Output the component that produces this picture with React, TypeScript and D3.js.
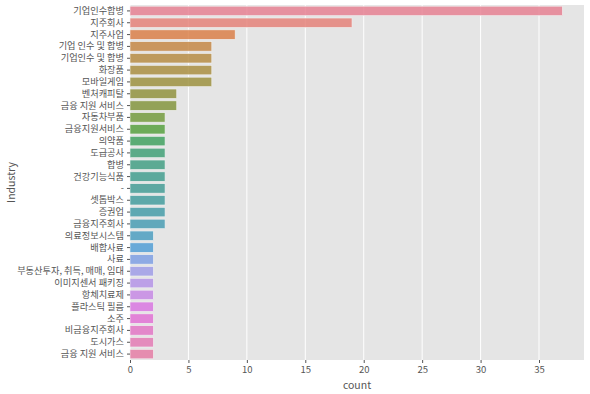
import React, { useEffect, useRef } from 'react';
import * as d3 from 'd3';

const industries = [
  '기업인수합병', '지주회사', '지주사업', '기업 인수 및 합병', '기업인수 및 합병',
  '화장품', '모바일게임', '벤처캐피탈', '금융 지원 서비스', '자동차부품',
  '금융지원서비스', '의약품', '도급공사', '합병', '건강기능식품',
  '-', '셋톱박스', '증권업', '금융지주회사', '의료정보시스템',
  '배합사료', '사료', '부동산투자, 취득, 매매, 임대', '이미지센서 패키징', '항체치료제',
  '플라스틱 필름', '소주', '비금융지주회사', '도시가스', '금융 지원 서비스 ',
];
const counts = [
  37, 19, 9, 7, 7,
  7, 7, 4, 4, 3,
  3, 3, 3, 3, 3,
  3, 3, 3, 3, 2,
  2, 2, 2, 2, 2,
  2, 2, 2, 2, 2,
];
const xTicks = [0, 5, 10, 15, 20, 25, 30, 35];

// seaborn husl palette (old husl 2.x maths)
const M = [
  [3.2406, -1.5372, -0.4986],
  [-0.9689, 1.8758, 0.0415],
  [0.0557, -0.204, 1.057],
];
const refU = 0.19784, refV = 0.46834, kappa = 903.3, epsilon = 0.008856;

function maxChroma(L: number, H: number) {
  const hrad = (H / 360) * 2 * Math.PI;
  const sinH = Math.sin(hrad), cosH = Math.cos(hrad);
  const sub1 = Math.pow(L + 16, 3) / 1560896;
  const sub2 = sub1 > epsilon ? sub1 : L / kappa;
  let result = Infinity;
  for (const [m1, m2, m3] of M) {
    const top = (0.99915 * m1 + 1.05122 * m2 + 1.1446 * m3) * sub2;
    const rbottom = 0.8633 * m3 - 0.17266 * m2;
    const lbottom = 0.12949 * m3 - 0.38848 * m1;
    const bottom = (rbottom * sinH + lbottom * cosH) * sub2;
    for (const t of [0, 1]) {
      const C = (L * (top - 1.05122 * t)) / (bottom + 0.17266 * sinH * t);
      if (C > 0 && C < result) result = C;
    }
  }
  return result;
}

function huslToRgb(h: number, s: number, l: number) {
  const C = (maxChroma(l, h) / 100) * s;
  const hrad = (h / 360) * 2 * Math.PI;
  const U = Math.cos(hrad) * C, V = Math.sin(hrad) * C;
  const t = (l + 16) / 116;
  const varY = t * t * t > epsilon ? t * t * t : (116 * t - 16) / kappa;
  const varU = U / (13 * l) + refU;
  const varV = V / (13 * l) + refV;
  const Y = varY;
  const X = -(9 * Y * varU) / ((varU - 4) * varV - varU * varV);
  const Z = (9 * Y - 15 * varV * Y - varV * X) / (3 * varV);
  const lin = M.map(r => r[0] * X + r[1] * Y + r[2] * Z);
  const rgb = lin.map(c => {
    const v = c <= 0.0031308 ? 12.92 * c : 1.055 * Math.pow(c, 1 / 2.4) - 0.055;
    return Math.max(0, Math.min(1, v)) * 255;
  });
  return d3.rgb(rgb[0], rgb[1], rgb[2]);
}

function palette(n: number) {
  return d3.range(n).map(i => {
    const h = ((i / n + 0.01) % 1) * 359;
    const c = d3.hsl(huslToRgb(h, 0.9 * 99, 0.65 * 99));
    c.s *= 0.75;
    return c.formatHex();
  });
}

export default function App() {
  const ref = useRef<SVGSVGElement>(null);

  useEffect(() => {
    const svg = d3.select(ref.current);
    svg.selectAll('*').remove();

    const margin = { top: 5, right: 6, bottom: 34, left: 130 };
    const width = 590 - margin.left - margin.right;
    const height = 394 - margin.top - margin.bottom;
    const font = '"Noto Sans CJK KR", "Noto Sans", sans-serif';
    const colors = palette(industries.length);

    const g = svg.append('g').attr('transform', `translate(${margin.left},${margin.top})`);

    const x = d3.scaleLinear().domain([0, d3.max(counts)! * 1.05]).range([0, width]);
    const y = d3.scaleBand().domain(industries).range([0, height]).paddingInner(0.2).paddingOuter(0.1);

    g.append('rect').attr('width', width).attr('height', height).attr('fill', '#e5e5e5');

    g.selectAll('line.grid')
      .data(xTicks)
      .join('line')
      .attr('x1', d => x(d)).attr('x2', d => x(d))
      .attr('y1', 0).attr('y2', height)
      .attr('stroke', '#fff').attr('stroke-width', 1);

    g.selectAll('rect.bar')
      .data(industries)
      .join('rect')
      .attr('x', x(0))
      .attr('y', d => y(d)!)
      .attr('width', (d, i) => x(counts[i]) - x(0))
      .attr('height', y.bandwidth())
      .attr('fill', (d, i) => colors[i])
      .attr('fill-opacity', 0.85)
      .attr('stroke', '#f2f2f2')
      .attr('stroke-width', 0.6);

    const xAxis = g.append('g')
      .attr('transform', `translate(0,${height})`)
      .call(d3.axisBottom(x).tickValues(xTicks).tickSize(3).tickPadding(3));
    const yAxis = g.append('g')
      .call(d3.axisLeft(y).tickSize(3).tickPadding(3));

    [xAxis, yAxis].forEach(a => {
      a.select('.domain').remove();
      a.selectAll('line').attr('stroke', '#555');
      a.selectAll('text').attr('fill', '#555').attr('font-family', font);
    });
    xAxis.selectAll('text').attr('font-size', 9.5);
    yAxis.selectAll('text').attr('font-size', 9.2);

    g.append('text')
      .attr('x', width / 2).attr('y', height + 29)
      .attr('text-anchor', 'middle')
      .attr('fill', '#555').attr('font-size', 10.5).attr('font-family', font)
      .text('count');

    g.append('text')
      .attr('transform', `translate(${-115},${height / 2}) rotate(-90)`)
      .attr('text-anchor', 'middle')
      .attr('fill', '#555').attr('font-size', 10.5).attr('font-family', font)
      .text('Industry');
  }, []);

  return (
    <div style={{ position: 'absolute', left: 0, top: 0 }}>
      <svg ref={ref} width={590} height={394} style={{ display: 'block' }} />
    </div>
  );
}
